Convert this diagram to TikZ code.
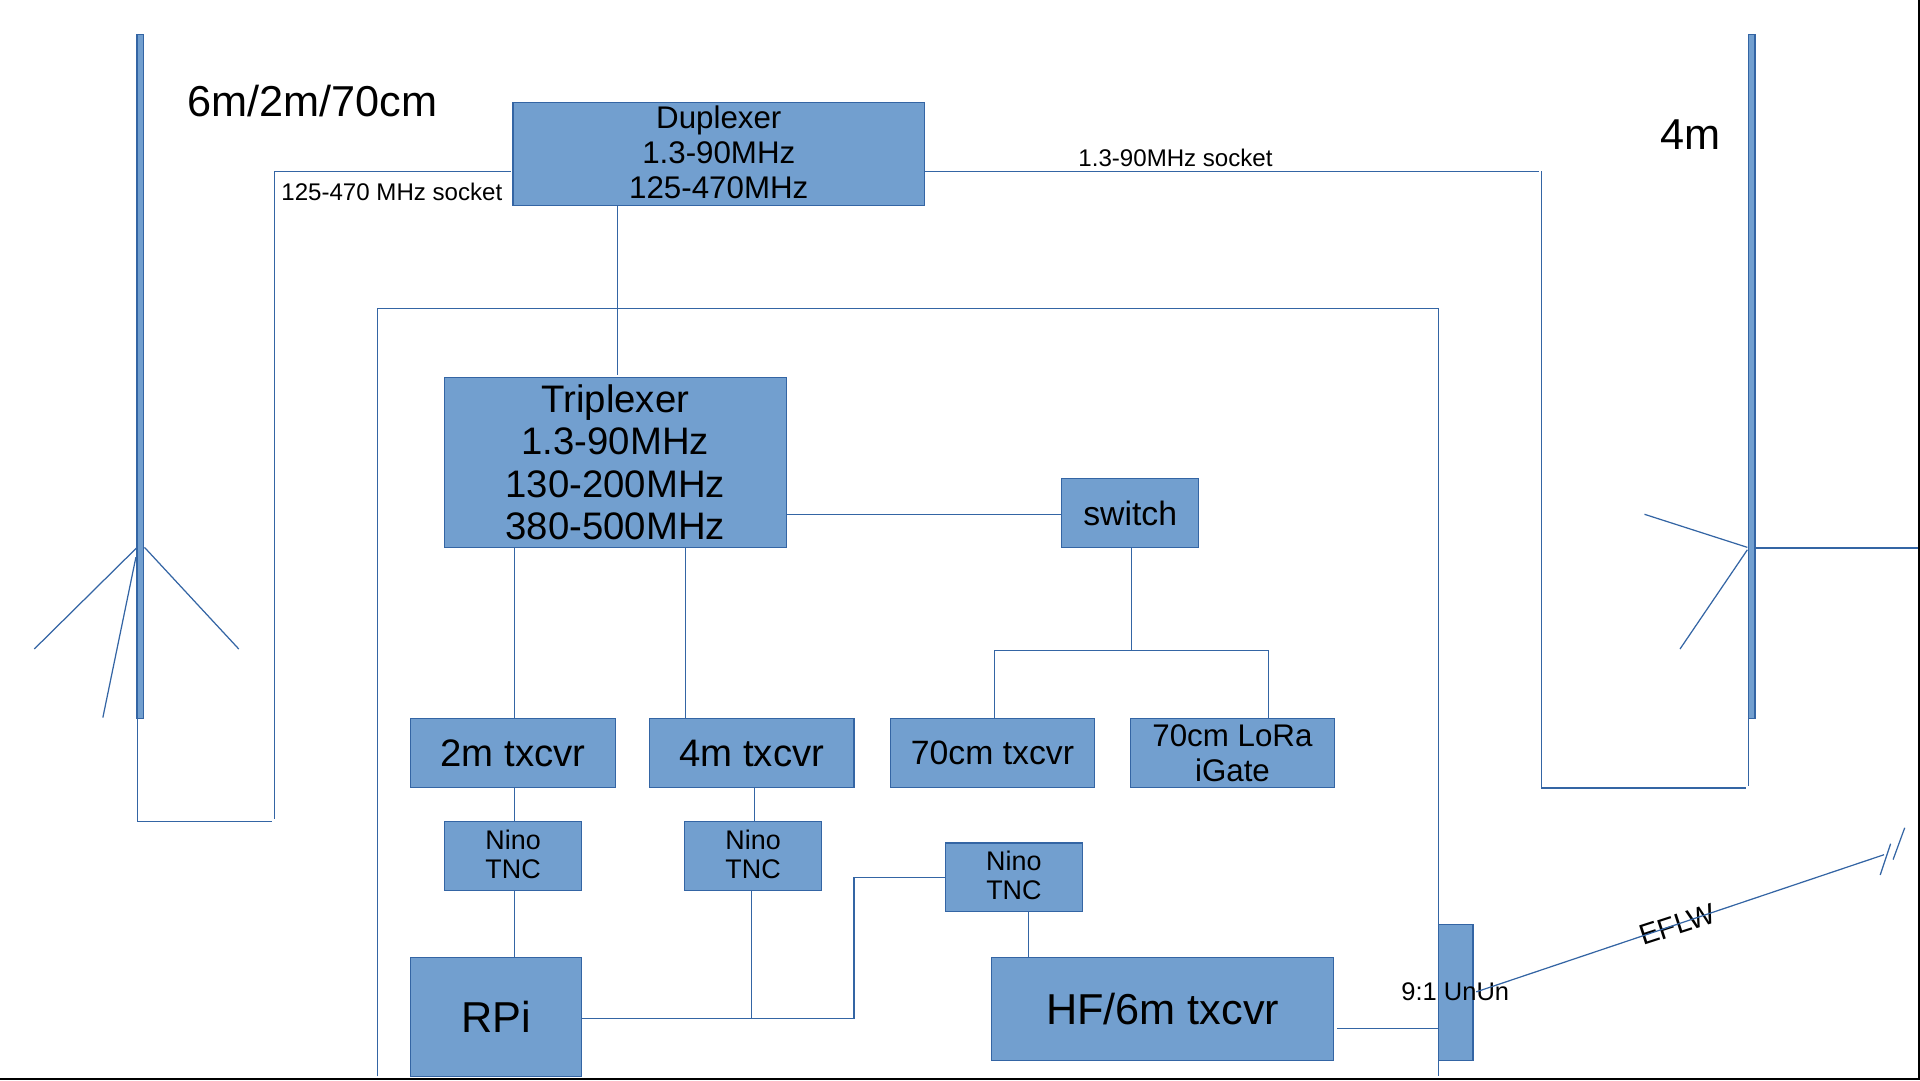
\documentclass[tikz,border=0pt]{standalone}
\usepackage{fontspec}
\setmainfont{Liberation Sans}
\def\u{0.012245cm}
\newcommand\stk[2]{\raisebox{#1}[0pt][0pt]{\begin{tabular}{@{}c@{}}#2\end{tabular}}}
\tikzset{
  x=0.012245cm, y=-0.012245cm,
  blk/.style={draw=boxline, fill=boxfill, line width=0.35pt, inner sep=0pt, outer sep=0pt, align=center, text=black},
  wire/.style={draw=boxline, line width=0.35pt},
  lbl/.style={inner sep=0pt, outer sep=0pt, align=center, text=black},
  big/.style={font=\fontsize{12.3}{14}\selectfont},
  tall/.style={font=\fontsize{10.9}{12}\selectfont},
  mid/.style={font=\fontsize{8.9}{9.95}\selectfont},
  sw/.style={font=\fontsize{9.6}{11}\selectfont},
  nino/.style={font=\fontsize{7.65}{8.2}\selectfont},
  small/.style={font=\fontsize{6.85}{8.2}\selectfont},
  size/.style 2 args={minimum width=#1*\u, minimum height=#2*\u},
}
\definecolor{boxfill}{HTML}{729FCF}
\definecolor{boxline}{HTML}{3465A4}
\begin{document}
\begin{tikzpicture}
\useasboundingbox (0,0) rectangle (1568,882);
% page edge
\draw[black,line width=0.55pt] (0,881.2) -- (1567.2,881.2) -- (1567.2,0);
% blocks
\node[blk,mid,size={336}{84}] (dup) at (587,126) {\stk{-2.9pt}{Duplexer\\1.3-90MHz\\125-470MHz}};
\node[blk,tall,size={279}{139}] (trip) at (502.5,377.5) {Triplexer\\1.3-90MHz\\130-200MHz\\380-500MHz};
\node[blk,sw,size={112}{56}] (switch) at (923,419) {switch};
\node[blk,tall,size={167}{56}] (twom) at (419,615) {2m txcvr};
\node[blk,tall,size={167}{56}] (fourm) at (614,615) {4m txcvr};
\node[blk,sw,size={167}{56}] (seventy) at (810.5,615) {70cm txcvr};
\node[blk,mid,size={167}{56}] (lora) at (1006.5,615) {70cm LoRa\\iGate};
\node[blk,nino,size={112}{56}] (ninoa) at (419,699) {\stk{-2.6pt}{Nino\\TNC}};
\node[blk,nino,size={112}{56}] (ninob) at (615,699) {\stk{-2.6pt}{Nino\\TNC}};
\node[blk,nino,size={112}{56}] (ninoc) at (828,716.5) {\stk{-2.6pt}{Nino\\TNC}};
\node[blk,big,size={139.5}{97}] (rpi) at (405.2,830.5) {RPi};
\node[blk,big,size={279}{84}] (hf) at (949.5,824) {HF/6m txcvr};
\node[blk,size={28.5}{111}] (unun) at (1188.75,810.5) {};
\node[blk,size={5.5}{559}] (anta) at (114.7,307.5) {};
\node[blk,size={5.5}{559}] (antb) at (1430.5,307.5) {};
% free labels
\node[lbl,big] (title) at (255,82.5) {6m/2m/70cm};
\node[lbl,big] (fourlab) at (1380.5,110) {4m};
\node[lbl,small] (sockl) at (320,157) {125-470 MHz socket};
\node[lbl,small] (sockr) at (960,129) {1.3-90MHz socket};
\node[lbl,font=\fontsize{7.25}{8.2}\selectfont] (ununlab) at (1188.5,810) {9:1 UnUn};
\node[lbl,font=\fontsize{8.2}{9}\selectfont,rotate=18] (eflw) at (1370,755) {EFLW};
% alignment helpers
\coordinate (vanta) at (112.5,0);
\coordinate (v504) at (504,0);
\coordinate (v420) at (420,0);
\coordinate (v560) at (560,0);
\coordinate (v616) at (616,0);
\coordinate (v614) at (614,0);
\coordinate (v698) at (697.5,0);
\coordinate (v840) at (840,0);
\coordinate (v924) at (924,0);
\coordinate (v812) at (812,0);
\coordinate (v1036) at (1036,0);
\coordinate (vantb) at (1428,0);
\coordinate (h140) at (0,140);
\coordinate (h420) at (0,420);
\coordinate (h840) at (0,840);
\coordinate (h831) at (0,831.5);
\coordinate (h716) at (0,716.5);
% duplexer to left antenna
\coordinate (la) at (224,140);
\coordinate (lb) at (224,669);
\coordinate (lc) at (222,671);
\coordinate (ld) at (112.5,671);
\draw[wire] (dup.west |- h140) ++(-2,0) -- (la) -- (lb);
\draw[wire] (lc) -- (ld) -- (anta.south -| vanta);
% duplexer to right antenna
\coordinate (ra) at (1257,140);
\coordinate (rb) at (1259,140);
\coordinate (rc) at (1259,643.5);
\coordinate (rd) at (1426,643.5);
\coordinate (re) at (1428,642);
\draw[wire] (dup.east |- h140) -- (ra);
\draw[wire] (rb) -- (rc) -- (rd);
\draw[wire] (antb.south -| vantb) -- (re);
% duplexer to triplexer
\draw[wire] (dup.south -| v504) -- ([yshift=2*\u]trip.north -| v504);
% enclosure
\coordinate (ea) at (308,879);
\coordinate (eb) at (308,252);
\coordinate (ec) at (1175,252);
\coordinate (ed) at (1175,878.5);
\draw[wire] (ea) -- (eb) -- (ec) -- (ed);
% triplexer branches
\draw[wire] (trip.east |- h420) -- (switch.west |- h420);
\draw[wire] (trip.south -| v420) -- (twom.north -| v420);
\draw[wire] (trip.south -| v560) -- (fourm.north -| v560);
% switch tree
\coordinate (sj) at (924,531.5);
\coordinate (sl) at (812,531.5);
\coordinate (sr) at (1036,531.5);
\draw[wire] (switch.south -| v924) -- (sj);
\draw[wire] (sl) -- (sr);
\draw[wire] (sl) -- (seventy.north -| v812);
\draw[wire] (sr) -- (lora.north -| v1036);
% TNC links
\draw[wire] (twom.south -| v420) -- (ninoa.north -| v420);
\draw[wire] (ninoa.south -| v420) -- (rpi.north -| v420);
\draw[wire] (fourm.south -| v616) -- (ninob.north -| v616);
\draw[wire] (ninob.south -| v614) -- (v614 |- h831);
\draw[wire] (rpi.east |- h831) -- (v698 |- h831) -- (v698 |- h716) -- (ninoc.west |- h716);
\draw[wire] (ninoc.south -| v840) -- (hf.north -| v840);
\draw[wire] ([xshift=3*\u]hf.east |- h840) -- (unun.west |- h840);
% EFLW wire
\coordinate (wa) at (1205.6,810);
\coordinate (wb) at (1538.6,698);
\coordinate (ta) at (1535.5,714.5);
\coordinate (tb) at (1544,689);
\coordinate (tc) at (1546,702);
\coordinate (td) at (1555.5,676);
\draw[wire] (wa) -- (wb);
\draw[wire] (ta) -- (tb);
\draw[wire] (tc) -- (td);
% left antenna radials
\coordinate (pa) at (112,447);
\coordinate (pb) at (28,530);
\coordinate (pc) at (118,447);
\coordinate (pd) at (195,530);
\coordinate (pe) at (111,455);
\coordinate (pf) at (84,586);
\draw[wire] (pa) -- (pb);
\draw[wire] (pc) -- (pd);
\draw[wire] (pe) -- (pf);
% right antenna radials
\coordinate (qa) at (1427,447);
\coordinate (qb) at (1343,420);
\coordinate (qc) at (1427,449);
\coordinate (qd) at (1372,530);
\coordinate (qe) at (1433,447.5);
\coordinate (qf) at (1566,447.5);
\draw[wire] (qa) -- (qb);
\draw[wire] (qc) -- (qd);
\draw[wire] (qe) -- (qf);
\end{tikzpicture}
\end{document}
